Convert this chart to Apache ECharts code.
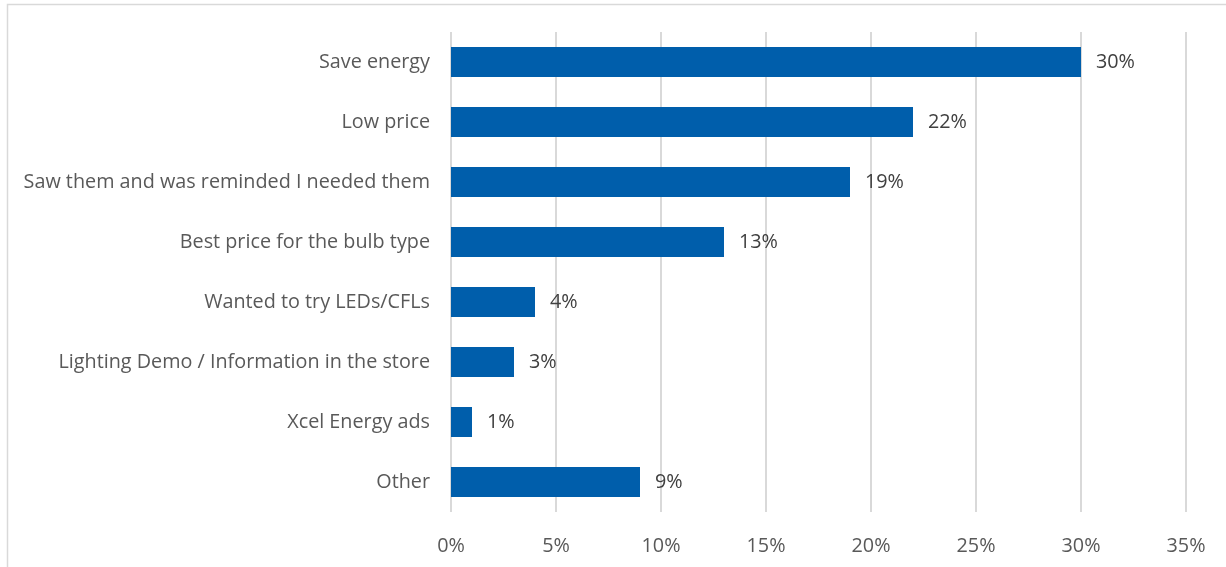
<!DOCTYPE html>
<html>
<head>
<meta charset="utf-8">
<script src="https://cdn.jsdelivr.net/npm/echarts@6/dist/echarts.min.js"></script>
<style>
  html, body { margin: 0; padding: 0; background: #fff; }
  #main { width: 1226px; height: 567px; }
</style>
</head>
<body>
<div id="main"></div>
<script>
    // data
    var categories = ['Save energy', 'Low price', 'Saw them and was reminded I needed them',
        'Best price for the bulb type', 'Wanted to try LEDs/CFLs',
        'Lighting Demo / Information in the store', 'Xcel Energy ads', 'Other']
    var shares = [30, 22, 19, 13, 4, 3, 1, 9]

    var myChart = echarts.init(document.getElementById('main'))

    var font = '"Open Sans", "Liberation Sans", sans-serif'

    var option = {
        animation: false,
        textStyle: { fontFamily: font },
        graphic: [{
            type: 'rect',
            shape: { x: 7.5, y: 4.5, width: 1240, height: 600 },
            style: { fill: 'none', stroke: '#d9d9d9', lineWidth: 1.5 },
            silent: true
        }],
        grid: { left: 451, right: 40, top: 32, bottom: 55 },
        xAxis: {
            type: 'value',
            min: 0,
            max: 35,
            interval: 5,
            axisLine: { show: false },
            axisTick: { show: false },
            axisLabel: {
                formatter: '{value}%',
                color: '#595959',
                fontSize: 19.8,
                fontFamily: font,
                margin: 24
            },
            splitLine: { lineStyle: { color: '#d9d9d9', width: 2 } }
        },
        yAxis: {
            type: 'category',
            data: categories,
            inverse: true,
            axisLine: { show: false },
            axisTick: { show: false },
            axisLabel: {
                color: '#595959',
                fontSize: 19.8,
                fontFamily: font,
                margin: 21,
                padding: [3, 0, 0, 0]
            }
        },
        series: [{
            type: 'bar',
            data: shares,
            barWidth: '50%',
            itemStyle: { color: '#005eab' },
            label: {
                show: true,
                position: 'right',
                distance: 15,
                formatter: '{c}%',
                color: '#404040',
                fontSize: 19.8,
                fontFamily: font,
                padding: [3, 0, 0, 0]
            }
        }]
    }

    myChart.setOption(option)
</script>
</body>
</html>
